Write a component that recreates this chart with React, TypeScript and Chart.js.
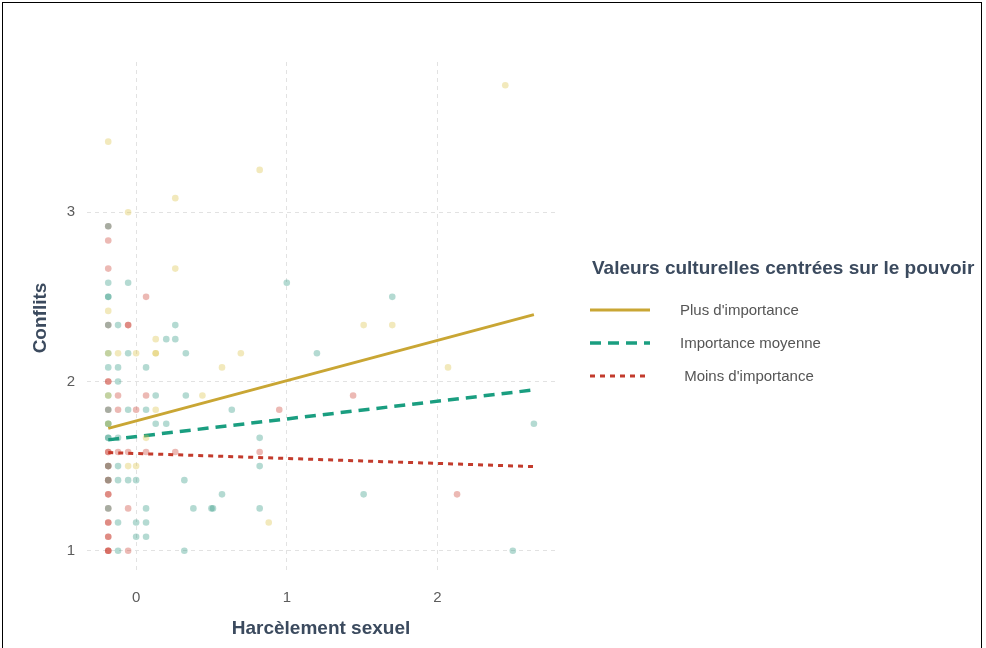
import React, { useEffect, useRef } from "react";
import { Chart, registerables } from "chart.js";
Chart.register(...registerables);

// Tick labels
const xTicks = [0, 1, 2];
const yTicks = [1, 2, 3];

// Legend / group names
const groupNames = ["Plus d'importance", "Importance moyenne", " Moins d'importance"];
const legendTitle = "Valeurs culturelles centrées sur le pouvoir";

// Scatter points — "Plus d'importance"
const plusX = [-0.185, -0.053, 0.26, 0.82, 2.45, 0.26, -0.185, -0.185, -0.185, -0.185, 0.13, 0.13, 0.0, 0.44, 0.13, 1.51, 1.70, 0.695, 0.57, 2.07, 0.88, -0.053, 0.0, 0.066, 0.13, -0.12];
const plusY = [3.417, 3.0, 3.083, 3.25, 3.75, 2.667, 2.417, 2.167, 1.917, 1.75, 2.25, 2.167, 2.167, 1.917, 1.833, 2.333, 2.333, 2.167, 2.083, 2.083, 1.167, 1.5, 1.5, 1.667, 2.167, 2.167];

// Scatter points — "Importance moyenne"
const moyX = [-0.185, -0.185, -0.185, -0.185, -0.185, -0.185, -0.185, -0.185, -0.185, -0.185, -0.185, -0.185, -0.185, -0.185, -0.053, -0.12, 0.26, 0.2, 0.26, -0.053, 0.33, -0.12, 0.066, -0.12, 0.13, 0.33, -0.053, 0.066, 0.13, 0.2, -0.12, -0.12, -0.12, -0.053, 0.0, 0.32, 0.38, 0.5, 0.066, 0.0, 0.066, 0.0, 0.066, -0.12, 1.0, 1.70, 1.2, 0.635, 0.82, 0.82, 0.57, 1.51, 0.51, 0.82, 2.64, 2.5, 0.32, -0.12, -0.185, -0.185];
const moyY = [2.917, 2.583, 2.5, 2.333, 2.167, 2.083, 1.917, 1.833, 1.75, 1.667, 1.5, 1.417, 1.25, 1.667, 2.583, 2.333, 2.333, 2.25, 2.25, 2.167, 2.167, 2.083, 2.083, 2.0, 1.917, 1.917, 1.833, 1.833, 1.75, 1.75, 1.667, 1.5, 1.417, 1.417, 1.417, 1.417, 1.25, 1.25, 1.25, 1.167, 1.167, 1.083, 1.083, 1.0, 2.583, 2.5, 2.167, 1.833, 1.667, 1.5, 1.333, 1.333, 1.25, 1.25, 1.75, 1.0, 1.0, 1.167, 2.5, 1.75];

// Scatter points — "Moins d'importance"
const moinsX = [-0.185, -0.185, -0.185, -0.185, -0.185, -0.185, -0.185, -0.185, -0.185, -0.185, -0.185, -0.185, -0.185, -0.185, -0.185, -0.185, -0.185, -0.185, -0.185, -0.185, -0.185, 0.066, -0.053, -0.12, 0.066, -0.12, 0.0, -0.12, -0.053, 0.066, 0.26, -0.053, -0.053, 1.44, 0.95, 0.82, 2.13, -0.053, -0.185, -0.185];
const moinsY = [2.917, 2.833, 2.667, 2.333, 2.0, 2.0, 1.833, 1.583, 1.583, 1.5, 1.417, 1.333, 1.333, 1.25, 1.167, 1.167, 1.083, 1.083, 1.0, 1.0, 1.0, 2.5, 2.333, 1.917, 1.917, 1.833, 1.833, 1.583, 1.583, 1.583, 1.583, 1.25, 1.0, 1.917, 1.833, 1.583, 1.333, 2.333, 1.5, 1.417];

// Regression lines (endpoints)
const lineX = [-0.185, 2.64];
const plusLineY = [1.723, 2.395];
const moyLineY = [1.655, 1.95];
const moinsLineY = [1.58, 1.497];

const YELLOW = "#C9A634";
const TEAL = "#1A9E80";
const RED = "#C33B2C";

const pts = (xs: number[], ys: number[]) => xs.map((x, i) => ({ x, y: ys[i] }));

export default function App() {
  const ref = useRef<HTMLCanvasElement>(null);
  useEffect(() => {
    document.body.style.margin = "0";
    const FONT = "'Liberation Sans', Arial, sans-serif";
    const chart = new Chart(ref.current!, {
      type: "scatter",
      data: {
        datasets: [
          { label: "p1", data: pts(plusX, plusY), backgroundColor: "rgba(220,196,80,0.38)", borderWidth: 0, pointRadius: 3.3 },
          { label: "p2", data: pts(moyX, moyY), backgroundColor: "rgba(40,150,125,0.35)", borderWidth: 0, pointRadius: 3.3 },
          { label: "p3", data: pts(moinsX, moinsY), backgroundColor: "rgba(200,55,40,0.35)", borderWidth: 0, pointRadius: 3.3 },
          { label: groupNames[2], data: pts(lineX, moinsLineY), showLine: true, borderColor: RED, borderWidth: 3, borderDash: [5, 5], pointRadius: 0 } as any,
          { label: groupNames[1], data: pts(lineX, moyLineY), showLine: true, borderColor: TEAL, borderWidth: 3.5, borderDash: [11, 7], pointRadius: 0 } as any,
          { label: groupNames[0], data: pts(lineX, plusLineY), showLine: true, borderColor: YELLOW, borderWidth: 3, pointRadius: 0 } as any,
        ],
      },
      options: {
        animation: false,
        responsive: false,
        maintainAspectRatio: false,
        layout: { padding: { left: 0, right: 431, top: 62, bottom: 0 } },
        plugins: { legend: { display: false }, tooltip: { enabled: false } },
        scales: {
          x: {
            type: "linear",
            min: -0.326,
            max: 2.78,
            afterBuildTicks: (s: any) => { s.ticks = xTicks.map((v) => ({ value: v })); },
            afterFit: (s: any) => { s.height = 74; },
            grid: { color: "#e2e2e2", lineWidth: 1, drawTicks: false },
            border: { display: false, dash: [4, 4] },
            ticks: { padding: 15, color: "#5c5c5c", font: { family: FONT, size: 15 }, callback: (v: any) => String(v) },
            title: { display: true, text: "Harcèlement sexuel", color: "#3b4a5e", font: { family: FONT, size: 19, weight: "bold" }, padding: { top: 0, bottom: 8 } },
          },
          y: {
            type: "linear",
            min: 0.8625,
            max: 3.8875,
            afterBuildTicks: (s: any) => { s.ticks = yTicks.map((v) => ({ value: v })); },
            afterFit: (s: any) => { s.width = 87; },
            grid: { color: "#e2e2e2", lineWidth: 1, drawTicks: false },
            border: { display: false, dash: [4, 4] },
            ticks: { padding: 12, color: "#5c5c5c", font: { family: FONT, size: 15 }, callback: (v: any) => String(v) },
            title: { display: true, text: "Conflits", color: "#3b4a5e", font: { family: FONT, size: 19, weight: "bold" }, padding: { top: 29, bottom: 0 } },
          },
        },
      } as any,
    });
    return () => chart.destroy();
  }, []);

  const FONT = "'Liberation Sans', Arial, sans-serif";
  const rows = [
    { y: 310, color: YELLOW, dash: "", w: 3, label: groupNames[0] },
    { y: 343, color: TEAL, dash: "11 7", w: 3.5, label: groupNames[1] },
    { y: 376, color: RED, dash: "5 5", w: 3, label: groupNames[2] },
  ];
  return (
    <div style={{ position: "fixed", left: 0, top: 0, width: 986, height: 648, background: "#fff", overflow: "hidden" }}>
      <canvas ref={ref} width={986} height={648} style={{ position: "absolute", left: 0, top: 0, width: 986, height: 648 }} />
      <div style={{ position: "absolute", left: 2, top: 2, width: 980, height: 660, border: "1px solid #000", boxSizing: "border-box", pointerEvents: "none" }} />
      <div style={{ position: "absolute", left: 592, top: 256, fontFamily: FONT, fontSize: 19, lineHeight: "24px", fontWeight: "bold", color: "#3b4a5e", whiteSpace: "pre" }}>{legendTitle}</div>
      {rows.map((r, i) => (
        <React.Fragment key={i}>
          <svg style={{ position: "absolute", left: 588, top: r.y - 5 }} width={64} height={10}>
            <line x1={2} y1={5} x2={62} y2={5} stroke={r.color} strokeWidth={r.w} strokeDasharray={r.dash || undefined} />
          </svg>
          <div style={{ position: "absolute", left: 680, top: r.y - 9, fontFamily: FONT, fontSize: 15, color: "#555", whiteSpace: "pre", lineHeight: "18px" }}>{r.label}</div>
        </React.Fragment>
      ))}
    </div>
  );
}
